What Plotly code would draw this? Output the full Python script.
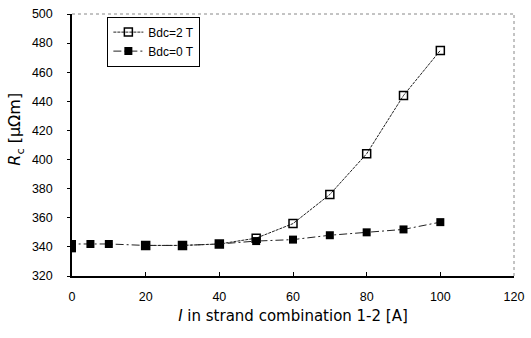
import plotly.graph_objects as go

# Data
x_2T = [20, 30, 40, 50, 60, 70, 80, 90, 100]
y_2T = [341, 341, 342, 346, 356, 376, 404, 444, 475]
x_0T = [0, 0, 5, 10, 20, 30, 40, 50, 60, 70, 80, 90, 100]
y_0T = [339, 342, 342, 342, 341, 341, 342, 344, 345, 348, 350, 352, 357]
x_ticks = [0, 20, 40, 60, 80, 100, 120]
y_ticks = [320, 340, 360, 380, 400, 420, 440, 460, 480, 500]

font = "Liberation Sans, Arial, sans-serif"
tfont = "DejaVu Sans, sans-serif"

fig = go.Figure()
fig.add_trace(go.Scatter(
    x=x_2T, y=y_2T, name="Bdc=2 T", mode="lines+markers",
    line=dict(color="#222", width=1, dash="3px,1px"),
    marker=dict(symbol="square-open", size=8, color="black", line=dict(width=1.5, color="black")),
))
fig.add_trace(go.Scatter(
    x=x_0T, y=y_0T, name="Bdc=0 T", mode="lines+markers",
    line=dict(color="#222", width=1, dash="8px,3px,2px,3px"),
    marker=dict(symbol="square", size=8, color="black"),
))

fig.update_layout(
    width=531, height=338,
    margin=dict(l=72, r=13, t=7, b=62),
    paper_bgcolor="white", plot_bgcolor="white",
    font=dict(family=font, size=12.5, color="black"),
    showlegend=True,
    legend=dict(x=0.08, y=0.99, xanchor="left", yanchor="top",
                bordercolor="black", borderwidth=1, bgcolor="white",
                font=dict(size=12), tracegroupgap=0, itemwidth=30),
    xaxis=dict(range=[0, 120], tickvals=x_ticks, showgrid=False, zeroline=False,
               showline=True, linecolor="black", linewidth=1.5, mirror=False,
               ticks="inside", ticklen=4, tickcolor="black", ticklabelstandoff=8,
               title=dict(text="<i>I</i> in strand combination 1-2 [A]",
                          font=dict(family=tfont, size=15), standoff=8)),
    yaxis=dict(range=[320, 500], tickvals=y_ticks, showgrid=False, zeroline=False,
               showline=True, linecolor="black", linewidth=1.5,
               ticks="outside", ticklen=3, tickcolor="black", ticklabelstandoff=12),
    annotations=[
        dict(text="<i>R</i><sub>c</sub> [μΩm]", xref="paper", yref="paper",
             x=-0.128, y=0.56, xanchor="center", yanchor="middle", textangle=-90,
             showarrow=False, font=dict(family=tfont, size=16)),
    ],
    shapes=[
        dict(type="line", xref="paper", yref="paper", x0=0, x1=1, y0=1, y1=1,
             line=dict(color="#888", width=1, dash="dot")),
        dict(type="line", xref="paper", yref="paper", x0=1, x1=1, y0=0, y1=1,
             line=dict(color="#888", width=1, dash="dot")),
    ],
)

fig.write_html("out.html", config={"displayModeBar": False},
               post_script="document.body.style.margin='0';")
